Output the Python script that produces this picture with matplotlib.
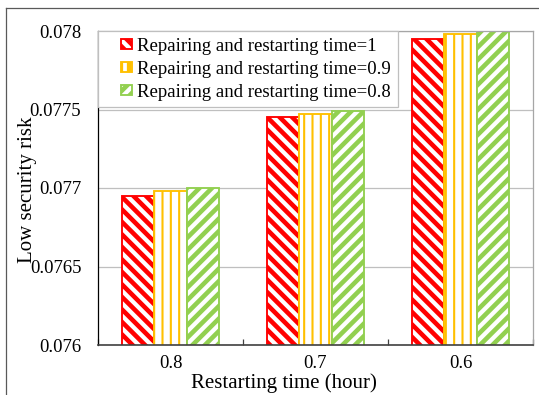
import matplotlib
matplotlib.use("Agg")
import matplotlib.pyplot as plt
import numpy as np
from matplotlib.patches import Rectangle
from matplotlib.legend_handler import HandlerPatch
from matplotlib.lines import Line2D

# Data
categories = ["0.8", "0.7", "0.6"]
series_labels = [
    "Repairing and restarting time=1",
    "Repairing and restarting time=0.9",
    "Repairing and restarting time=0.8",
]
risk_rt1 = [0.07695, 0.07745, 0.07795]
risk_rt09 = [0.07698, 0.07747, 0.07798]
risk_rt08 = [0.07700, 0.07749, 0.07800]
y_ticks = [0.076, 0.0765, 0.077, 0.0775, 0.078]
y_tick_labels = ["0.076", "0.0765", "0.077", "0.0775", "0.078"]

DPI = 150
plt.rcParams["font.family"] = ["Liberation Serif", "DejaVu Serif"]
plt.rcParams["hatch.linewidth"] = 2.2

fig = plt.figure(figsize=(539 / DPI, 395 / DPI), dpi=DPI)
ax = fig.add_axes([98 / 539, 1 - 345 / 395, (533 - 98) / 539, (345 - 31) / 395])

BS = "\\"
styles = [
    dict(color="#FF0000", hatch=BS * 4, hlw=2.2),
    dict(color="#FFC000", hatch="|||", hlw=1.0),
    dict(color="#92D050", hatch="////", hlw=2.2),
]
series = [risk_rt1, risk_rt09, risk_rt08]

x = np.arange(len(categories))
width = 0.224
handles = []
for i, (vals, st, lab) in enumerate(zip(series, styles, series_labels)):
    bars = ax.bar(x + (i - 1) * width, vals, width, bottom=0,
                  facecolor="white", edgecolor=st["color"], hatch=st["hatch"],
                  linewidth=0.9, label=lab, zorder=2)
    for b in bars:
        try:
            b.set_hatch_linewidth(st["hlw"])
        except AttributeError:
            pass
    handles.append(bars[0])

ax.set_ylim(0.076, 0.078)
ax.set_xlim(-0.5, 2.5)
ax.set_yticks(y_ticks)
ax.set_yticklabels(y_tick_labels, fontsize=9)
ax.set_xticks(x)
ax.set_xticklabels(categories, fontsize=9)
ax.tick_params(axis="y", length=0, pad=8)
ax.tick_params(axis="x", length=0, pad=5)
# category boundary ticks on the bottom axis
ax.set_xticks([-0.5, 0.5, 1.5, 2.5], minor=True)
ax.tick_params(axis="x", which="minor", direction="in", length=3, width=0.6, color="#404040")

ax.grid(axis="y", color="#BFBFBF", linewidth=0.6, zorder=0)
ax.set_axisbelow(True)

ax.spines["left"].set_color("#000000")
ax.spines["left"].set_linewidth(0.6)
ax.spines["bottom"].set_color("#404040")
ax.spines["bottom"].set_linewidth(0.8)
for s in ("top", "right"):
    ax.spines[s].set_color("#A6A6A6")
    ax.spines[s].set_linewidth(0.6)

ax.set_ylabel("Low security risk", fontsize=10, va="center")
ax.set_xlabel("Restarting time (hour)", fontsize=10, va="center")
ax.yaxis.set_label_coords(-0.161, 0.494)
ax.xaxis.set_label_coords(0.427, -0.121)


def square_patch(legend, orig_handle, xdescent, ydescent, width, height, fontsize):
    s = 0.56 * fontsize
    return Rectangle((-xdescent + width - s, -ydescent + (height - s) / 2), s, s)


leg = ax.legend(handles=handles, labels=series_labels, loc="upper left",
                bbox_to_anchor=(0, 1), borderaxespad=0, fontsize=9,
                handlelength=1.45, handleheight=0.7, handletextpad=0.3,
                labelspacing=0.31, borderpad=0.35, fancybox=False,
                framealpha=1, edgecolor="#BFBFBF",
                handler_map={Rectangle: HandlerPatch(patch_func=square_patch)})
leg.get_frame().set_linewidth(0.6)
leg.set_zorder(5)

# outer frame lines along the top and left of the figure
fig.add_artist(Line2D([6 / 539, 6 / 539], [0, 1 - 8 / 395], transform=fig.transFigure,
                      color="#595959", linewidth=0.6))
fig.add_artist(Line2D([6 / 539, 1], [1 - 8 / 395, 1 - 8 / 395], transform=fig.transFigure,
                      color="#595959", linewidth=0.6))

fig.savefig("out.png", dpi=DPI)
